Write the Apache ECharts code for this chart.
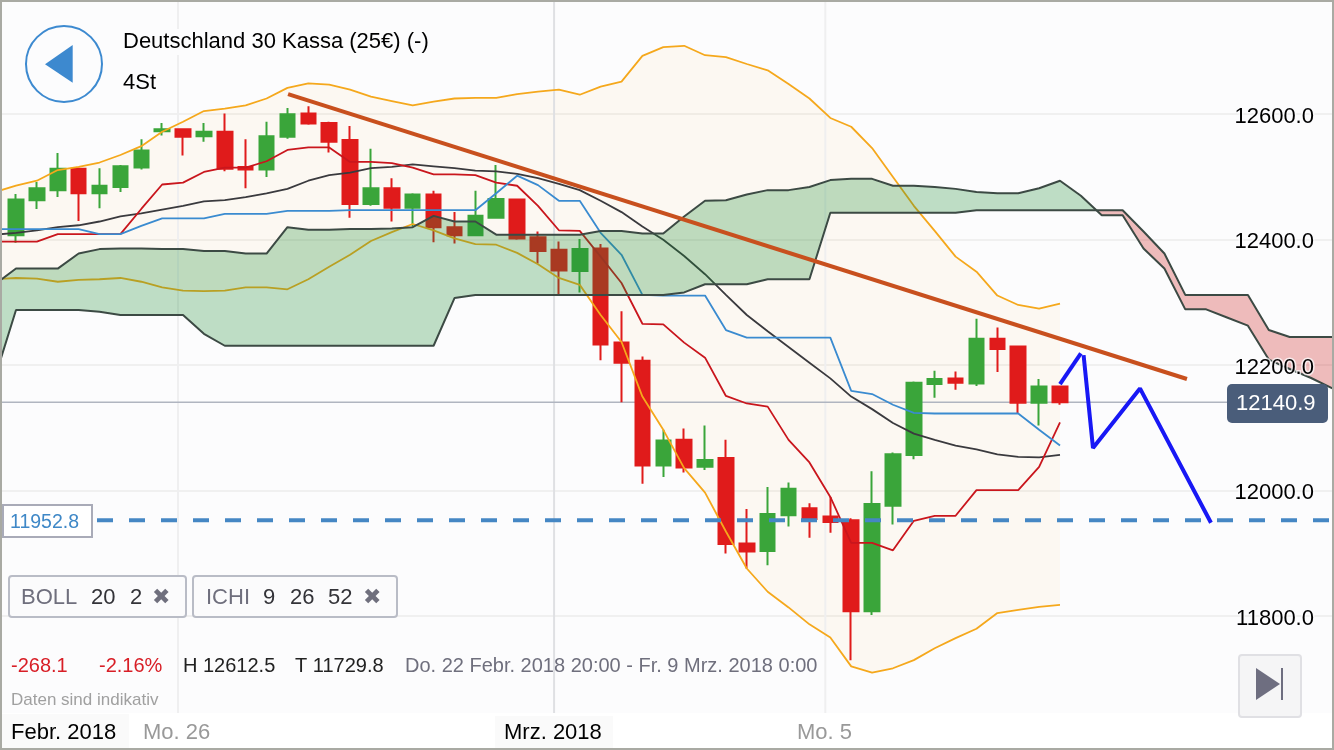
<!DOCTYPE html>
<html>
<head>
<meta charset="utf-8">
<script src="https://cdn.jsdelivr.net/npm/echarts@6/dist/echarts.min.js"></script>
<style>
html, body { margin: 0; padding: 0; background: #fff; }
#main { width: 1334px; height: 750px; }
</style>
</head>
<body>
<div id="main"></div>
<script>
// 4h candles, index 0 .. 50
var candleOpen = [12407,12463,12479,12513,12474,12484,12515,12573,12576,12565,12572,12516,12512,12564,12601,12586,12559,12457,12482,12451,12472,12420,12407,12435,12464,12404,12384,12350,12386,12236,12207,12040,12081,12038,12052,11916,11904,11961,11972,11959,11953,11808,11976,12057,12170,12179,12171,12242,12230,12140,12166];
var candleClose = [12464,12482,12513,12474,12486,12517,12542,12576,12564,12572,12513,12512,12565,12600,12585,12556,12457,12482,12451,12472,12420,12407,12438,12465,12402,12382,12351,12385,12233,12204,12040,12080,12037,12049,11915,11903,11963,12003,11955,11950,11808,11979,12058,12172,12178,12172,12242,12226,12140,12166,12140.9];
var candleLow = [12395,12449,12468,12430,12450,12476,12512,12566,12534,12556,12509,12482,12500,12561,12583,12539,12435,12454,12429,12421,12396,12394,12407,12434,12400,12362,12312,12316,12208,12141,12011,12022,12029,12033,11900,11876,11881,11943,11925,11933,11729.8,11802,11946,12050,12148,12161,12167,12189,12123,12104,12137];
var candleHigh = [12473,12492,12538,12515,12514,12519,12560,12586,12577,12586,12601,12560,12588,12610,12612.5,12588,12581,12545,12498,12474,12478,12444,12478,12519,12465,12413,12397,12401,12393,12286,12214,12097,12099,12104,12081,11971,12006,12013,11980,11990,11956,12031,12061,12174,12191,12190,12274,12260,12231,12178,12166];

// Indicators, index -1 .. 50
var bollUpper = [12476,12486,12494,12511,12516,12523,12535,12549,12572,12588,12605,12609,12614,12625,12642,12649,12647,12639,12628,12621,12614,12620,12625,12626,12626,12632,12636,12639,12631,12644,12652,12693,12707,12709,12694,12691,12680,12670,12648,12625,12594,12580,12546,12500,12454,12414,12373,12349,12311,12296,12290,12298];
var bollLower = [12337,12339,12338,12333,12336,12337,12339,12333,12324,12319,12318,12319,12324,12324,12321,12337,12357,12376,12398,12412,12425,12415,12402,12393,12392,12379,12361,12339,12328,12280,12237,12150,12097,12036,11997,11935,11876,11839,11814,11787,11766,11720,11710,11717,11730,11749,11765,11780,11805,11810,11815,11818];
var bollMiddle = [12408,12411,12415,12420,12423,12429,12437,12442,12448,12454,12461,12463,12468,12474,12481,12494,12503,12507,12514,12516,12520,12517,12514,12510,12509,12505,12498,12489,12479,12462,12444,12421,12400,12374,12345,12312,12280,12254,12229,12204,12179,12150,12130,12108,12091,12081,12072,12066,12058,12054,12053,12057];
var tenkan = [12397,12397,12397,12409,12409,12409,12409,12449,12488,12491,12508,12515,12515,12525,12543,12547,12547,12524,12524,12522,12515,12504,12504,12503,12491,12486,12454,12415,12414,12373,12331,12266,12265,12236,12212,12151,12139,12134,12081,12045,11990,11917,11917,11905,11952,11960,11960,12001,12001,12001,12038,12109];
var kijun = [12417,12417,12417,12417,12417,12409,12409,12422,12434,12434,12434,12441,12441,12441,12446,12446,12446,12447,12447,12447,12447,12447,12447,12447,12474,12502,12487,12462,12462,12411,12376,12312,12311,12311,12311,12256,12244,12244,12244,12244,12244,12159,12154,12137,12124,12123,12123,12123,12123,12123,12097,12072];

// Cloud, index -1 .. 64
var spanA = [12329,12354,12354,12354,12378,12385,12386,12386,12385,12385,12382,12382,12378,12378,12420,12416,12416,12417,12417,12418,12420,12438,12429,12429,12408,12408,12408,12408,12408,12414,12414,12410,12410,12437,12462,12463,12472,12479,12479,12484,12495,12497,12497,12486,12486,12484,12481,12476,12474,12474,12482,12494,12470,12439,12439,12386,12354,12289,12289,12276,12263,12209,12194,12180,12164,12148];
var spanB = [12181,12288,12288,12288,12288,12285,12280,12280,12280,12280,12250,12231,12231,12231,12231,12231,12231,12231,12231,12231,12231,12231,12307,12312,12312,12312,12312,12312,12312,12312,12312,12312,12312,12316,12329,12329,12329,12337,12337,12337,12443,12443,12443,12443,12443,12443,12443,12447,12447,12447,12447,12447,12447,12447,12447,12413,12378,12312,12312,12312,12312,12256,12245,12245,12245,12245];

var priceTicks = [11600, 11800, 12000, 12200, 12400, 12600, 12800];
var lastPrice = 12140.9;
var alertPrice = 11952.8;

// Hand drawn lines on the chart, [candle index, price]
var trendLine = [[13.03, 12632], [56.08, 12178]];
var sketchUp = [[50, 12170], [51, 12219]];
var sketchDown = [[51.13, 12216], [51.58, 12068], [53.83, 12163], [57.23, 11949]];
var timeMarks = [7.76, 25.77, 38.76];

var categories = [];
for (var c = -1; c <= 64; c++) categories.push(String(c));

var FONT = '"Liberation Sans", Arial, sans-serif';
var yMin = priceTicks[0], yMax = priceTicks[priceTicks.length - 1];

function txt(x, y, text, fill, size, bg) {
    var el = {
        type: 'text', x: x, y: y + 1, z: 60, silent: true,
        style: {text: text, fill: fill, font: size + 'px ' + FONT, verticalAlign: 'middle', align: 'left'}
    };
    if (bg) {
        el.x = x - 2;
        el.style.backgroundColor = bg;
        el.style.padding = [2, 2];
    }
    return el;
}
function box(x, y, w, h, fill, stroke, lw, r, z) {
    return {
        type: 'rect', z: z || 55, silent: true,
        shape: {x: x, y: y, width: w, height: h, r: r || 0},
        style: {fill: fill, stroke: stroke, lineWidth: lw || 0}
    };
}
function poly(points, fill) {
    return {type: 'polygon', z: 60, silent: true, shape: {points: points}, style: {fill: fill}};
}

function lineSeries(data, color, z, width) {
    return {
        type: 'line', data: data, symbol: 'none', z: z, silent: true,
        lineStyle: {color: color, width: width || 1.8}
    };
}
function xyLine(data, color, width, z, dash) {
    return {
        type: 'line', xAxisIndex: 1, data: data, symbol: 'none', z: z, silent: true,
        lineStyle: {color: color, width: width, type: dash || 'solid'}
    };
}

function renderBollFill(params, api) {
    var pts = [];
    for (var i = 0; i < bollUpper.length; i++) pts.push(api.coord([i - 1, bollUpper[i]]));
    for (var j = bollLower.length - 1; j >= 0; j--) pts.push(api.coord([j - 1, bollLower[j]]));
    return {type: 'polygon', shape: {points: pts}, style: {fill: 'rgba(250,180,60,0.055)'}};
}

// Split the cloud where the two spans cross
function renderCloud(params, api) {
    var children = [];
    var top = [], bottom = [];
    function flush(sign) {
        if (!top.length) return;
        var pts = top.concat(bottom.reverse()).map(function (p) { return api.coord(p); });
        children.push({
            type: 'polygon', shape: {points: pts},
            style: {fill: sign > 0 ? 'rgba(30,140,55,0.28)' : 'rgba(205,35,35,0.30)'}
        });
        top = [];
        bottom = [];
    }
    for (var k = 0; k < spanA.length; k++) {
        var d = spanA[k] - spanB[k];
        top.push([k - 1, spanA[k]]);
        bottom.push([k - 1, spanB[k]]);
        if (k < spanA.length - 1) {
            var d2 = spanA[k + 1] - spanB[k + 1];
            if (d * d2 < 0) {
                var t = d / (d - d2);
                var cross = [k - 1 + t, spanA[k] + t * (spanA[k + 1] - spanA[k])];
                top.push(cross);
                bottom.push(cross);
                flush(d);
                top.push(cross);
                bottom.push(cross);
            }
        }
    }
    flush(spanA[spanA.length - 1] - spanB[spanB.length - 1]);
    return {type: 'group', children: children};
}

var candleData = [['-', '-', '-', '-']];
for (var n = 0; n < candleOpen.length; n++) {
    candleData.push([candleOpen[n], candleClose[n], candleLow[n], candleHigh[n]]);
}

var chart = echarts.init(document.getElementById('main'), null, {renderer: 'canvas'});

var GRID_LEFT = -15.32, BAND = 20.88;

chart.setOption({
    animation: false,
    backgroundColor: '#fcfcfd',
    textStyle: {fontFamily: FONT},
    grid: {
        left: GRID_LEFT, top: -11.3, width: BAND * categories.length, height: 753,
        containLabel: false, outerBoundsMode: 'none'
    },
    xAxis: [
        {type: 'category', data: categories, show: false, boundaryGap: true},
        {type: 'value', min: -1.5, max: 64.5, show: false, splitLine: {show: false}}
    ],
    yAxis: [
        {
            type: 'value', min: yMin, max: yMax, interval: 200,
            position: 'right', axisLine: {show: false}, axisTick: {show: false}, axisLabel: {show: false},
            splitLine: {show: true, showMinLine: false, showMaxLine: false, lineStyle: {color: '#f0f0f0', width: 2}}
        },
        {
            type: 'value', min: yMin, max: yMax, interval: 200,
            position: 'right', z: 20, axisLine: {show: false}, axisTick: {show: false}, splitLine: {show: false},
            axisLabel: {
                inside: true, margin: 48.8, color: '#000', fontSize: 22, fontFamily: FONT,
                verticalAlign: 'top', lineHeight: 5,
                showMinLabel: false, showMaxLabel: false,
                textBorderColor: 'rgba(252,252,253,0.75)', textBorderWidth: 3,
                formatter: function (v) { return v.toFixed(1); }
            }
        }
    ],
    series: [
        {
            type: 'custom', xAxisIndex: 1, z: 1, silent: true, renderItem: renderBollFill,
            data: [[0, 12000]], encode: {x: 0, y: 1}
        },
        xyLine([[timeMarks[0], yMin], [timeMarks[0], yMax]], '#efeff0', 2, 1),
        xyLine([[timeMarks[1], yMin], [timeMarks[1], yMax]], '#dfe0e3', 2, 1),
        xyLine([[timeMarks[2], yMin], [timeMarks[2], yMax]], '#efeff0', 2, 1),
        xyLine([[-1.5, lastPrice], [58.1, lastPrice]], '#b0b5c0', 1.5, 1.5),
        {
            type: 'candlestick', data: candleData, barWidth: 15, z: 2, silent: true,
            itemStyle: {
                color: '#3aa53a', color0: '#e01b1b',
                borderColor: '#3aa53a', borderColor0: '#e01b1b', borderWidth: 2
            }
        },
        lineSeries(bollUpper, '#f5a81c', 3),
        lineSeries(bollLower, '#f5a81c', 3),
        lineSeries(bollMiddle, '#3a3a3e', 3),
        lineSeries(tenkan, '#c9161d', 3),
        lineSeries(kijun, '#3a8bd0', 3),
        {
            type: 'custom', xAxisIndex: 1, z: 4, silent: true, renderItem: renderCloud,
            data: [[0, 12000]], encode: {x: 0, y: 1}
        },
        lineSeries(spanA, '#3c4a44', 5, 2),
        lineSeries(spanB, '#3c4a44', 5, 2),
        xyLine([[3.88, alertPrice], [64.5, alertPrice]], '#4587c4', 4, 6, [16, 16]),
        xyLine(trendLine, '#c8501e', 4, 6),
        xyLine(sketchUp, '#1818f5', 4, 7),
        xyLine(sketchDown, '#1818f5', 4, 7)
    ],
    graphic: {
        elements: [
            // bottom time strip
            box(0, 713, 1334, 37, '#ffffff'),
            box(1, 714, 128, 34, '#fafafa'),
            box(495, 716, 118, 32, '#fafafa'),
            txt(11, 732, 'Febr. 2018', '#000000', 22),
            txt(143, 732, 'Mo. 26', '#999999', 22),
            txt(504, 732, 'Mrz. 2018', '#000000', 22),
            txt(797, 732, 'Mo. 5', '#999999', 22),

            // header
            {
                type: 'circle', z: 60, silent: true, shape: {cx: 64, cy: 64, r: 38},
                style: {fill: 'rgba(255,255,255,0)', stroke: '#3d8ad0', lineWidth: 2}
            },
            poly([[45, 64.3], [72.7, 45], [72.7, 82.7]], '#3d89cf'),
            txt(123, 41, 'Deutschland 30 Kassa (25€) (-)', '#000000', 22, '#fcfcfd'),
            txt(123, 82, '4St', '#000000', 22),

            // alert price tag
            box(3, 505, 89, 32, '#ffffff', '#a9abb8', 2),
            txt(10, 522, '11952.8', '#3f88c7', 19.5),

            // indicator chips
            box(9, 576, 177, 41, '#fbfbfc', '#b9bcc6', 2, 3),
            txt(21, 597, 'BOLL', '#6f6f7d', 22),
            txt(91, 597, '20', '#333338', 22),
            txt(130, 597, '2', '#333338', 22),
            txt(152, 597, '\u2716', '#6f6f7d', 22),
            box(193, 576, 204, 41, '#fbfbfc', '#b9bcc6', 2, 3),
            txt(206, 597, 'ICHI', '#6f6f7d', 22),
            txt(263, 597, '9', '#333338', 22),
            txt(290, 597, '26', '#333338', 22),
            txt(328, 597, '52', '#333338', 22),
            txt(363, 597, '\u2716', '#6f6f7d', 22),

            // stats
            txt(11, 665, '-268.1', '#d81e26', 20, '#fcfcfd'),
            txt(99, 665, '-2.16%', '#d81e26', 20, '#fcfcfd'),
            txt(183, 665, 'H 12612.5', '#222222', 20, '#fcfcfd'),
            txt(295, 665, 'T 11729.8', '#222222', 20),
            txt(405, 665, 'Do. 22 Febr. 2018 20:00 - Fr. 9 Mrz. 2018 0:00', '#6f6f7d', 20),
            txt(11, 699, 'Daten sind indikativ', '#a0a0a0', 17),

            // last price tag
            box(1227, 384, 101, 39, '#4a5d7a', null, 0, 5),
            txt(1236, 403, '12140.9', '#ffffff', 22),

            // jump to end button
            box(1239, 655, 62, 62, '#f5f5f6', '#e0e0e4', 2, 3),
            poly([[1256, 668], [1256, 700], [1280, 684]], '#6e6e80'),
            box(1281, 668, 2, 32, '#6e6e80', null, 0, 0, 60),

            // frame
            box(0, 0, 1334, 2, '#a9aaa3', null, 0, 0, 70),
            box(0, 748, 1334, 2, '#a9aaa3', null, 0, 0, 70),
            box(0, 0, 2, 750, '#a9aaa3', null, 0, 0, 70),
            box(1332, 0, 2, 750, '#a9aaa3', null, 0, 0, 70)
        ]
    }
});
</script>
</body>
</html>
